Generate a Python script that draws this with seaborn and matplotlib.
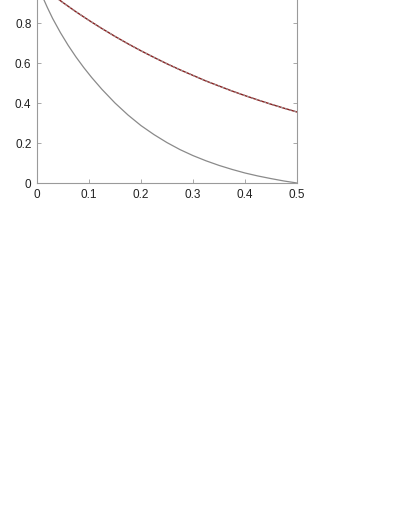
import matplotlib
matplotlib.use("Agg")
import matplotlib.pyplot as plt
import seaborn as sns
import pandas as pd

# Data
x_vals = [0.0, 0.025, 0.05, 0.075, 0.1, 0.125, 0.15, 0.175, 0.2, 0.225, 0.25,
          0.275, 0.3, 0.325, 0.35, 0.375, 0.4, 0.425, 0.45, 0.475, 0.5]
upper_curve = [1.0, 0.950, 0.902, 0.856, 0.813, 0.772, 0.733, 0.696, 0.661, 0.628, 0.596,
               0.566, 0.538, 0.510, 0.485, 0.460, 0.437, 0.415, 0.394, 0.374, 0.355]

x_low = [0.0, 0.01, 0.02, 0.03, 0.045, 0.06, 0.075, 0.09, 0.105, 0.125, 0.15, 0.175, 0.2,
         0.225, 0.25, 0.275, 0.3, 0.325, 0.35, 0.375, 0.4, 0.425, 0.45, 0.475, 0.5]
lower_curve = [1.0, 0.935, 0.877, 0.823, 0.752, 0.688, 0.630, 0.577, 0.528, 0.468, 0.400,
               0.340, 0.287, 0.242, 0.202, 0.167, 0.137, 0.111, 0.088, 0.068, 0.050,
               0.035, 0.022, 0.010, 0.0]

x_ticks = [0, 0.1, 0.2, 0.3, 0.4, 0.5]
x_tick_labels = ["0", "0.1", "0.2", "0.3", "0.4", "0.5"]
y_ticks = [0, 0.2, 0.4, 0.6, 0.8]
y_tick_labels = ["0", "0.2", "0.4", "0.6", "0.8"]

sns.set_theme(style="white")
plt.rcParams['font.family'] = ['Liberation Sans', 'DejaVu Sans']

df_up = pd.DataFrame({"x": x_vals, "y": upper_curve})
df_low = pd.DataFrame({"x": x_low, "y": lower_curve})

fig = plt.figure(figsize=(4.05, 5.24), dpi=100)
ax = fig.add_axes([37 / 405, (524 - 183) / 524, 260 / 405, 200 / 524])

sns.lineplot(data=df_low, x="x", y="y", ax=ax, color="#8a8a8a", lw=0.9, sort=False)
sns.lineplot(data=df_up, x="x", y="y", ax=ax, color="#8b1c1c", lw=1.0, sort=False)
sns.lineplot(data=df_up, x="x", y="y", ax=ax, color="#9a9a9a", lw=0.8,
             linestyle=(0, (2, 2)), sort=False)

ax.set_xlim(0, 0.5)
ax.set_ylim(0, 1.0)
ax.set_xticks(x_ticks)
ax.set_xticklabels(x_tick_labels)
ax.set_yticks(y_ticks)
ax.set_yticklabels(y_tick_labels)
ax.set_xlabel("")
ax.set_ylabel("")

for side in ["left", "bottom", "right", "top"]:
    ax.spines[side].set_color("#9a9a9a")
    ax.spines[side].set_linewidth(0.8)

ax.tick_params(axis="both", direction="in", length=3, width=0.6, color="#9a9a9a",
               labelsize=8.5, labelcolor="#222222", pad=4)
ax.tick_params(axis="y", right=True, left=True)
ax.tick_params(axis="x", bottom=True, top=True)

fig.savefig("out.png", dpi=100)
